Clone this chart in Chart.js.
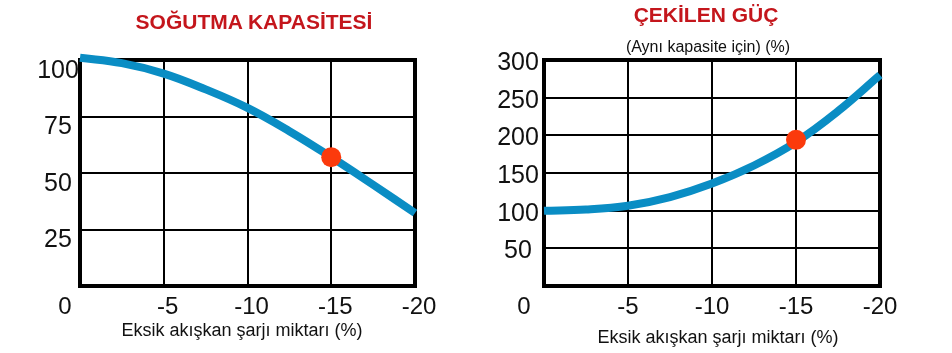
<!DOCTYPE html>
<html>
<head>
<meta charset="utf-8">
<script src="https://cdn.jsdelivr.net/npm/chart.js@4.4.1/dist/chart.umd.min.js"></script>
<style>
  body { margin: 0; background: #fff; width: 952px; height: 353px; overflow: hidden; position: relative;
         font-family: "Liberation Sans", Arial, sans-serif; }
  canvas { position: absolute; top: 0; }
  .t { position: absolute; transform: translate(-50%, -50%); white-space: nowrap; color: #111; }
  .title { font-weight: bold; font-size: 21px; color: #c4161c; }
  .sub { font-size: 16px; }
  .axis { font-size: 18px; }
</style>
</head>
<body>
<canvas id="capChart" width="476" height="353" style="left:0"></canvas>
<canvas id="powChart" width="476" height="353" style="left:476px"></canvas>

<div class="t title" style="left:254px;top:22px">SOĞUTMA KAPASİTESİ</div>
<div class="t axis" style="left:242px;top:330px">Eksik akışkan şarjı miktarı (%)</div>

<div class="t title" style="left:706px;top:15px">ÇEKİLEN GÜÇ</div>
<div class="t sub" style="left:708px;top:47px">(Aynı kapasite için) (%)</div>
<div class="t axis" style="left:718px;top:337px">Eksik akışkan şarjı miktarı (%)</div>

<script>
// values
const xTicks = [0, -5, -10, -15, -20];
const capTicks = [25, 50, 75, 100];
const powTicks = [50, 100, 150, 200, 250, 300];

const chargeX = [0, -2.5, -5, -7.5, -10, -12.5, -15, -17.5, -20];
const capacity = [101, 98.6, 94, 87, 78.8, 68.5, 57, 44.8, 32.3];
const power = [100, 101.5, 106.5, 118, 136, 160, 191, 232, 280];

const markerX = -15;
const capMarker = 57;
const powMarker = 194;

const BLUE = '#0a8dc4';
const RED = '#fb3a0c';

// black frame + hand-placed tick labels
const frame = {
  id: 'frame',
  beforeDatasetsDraw(chart) {
    const { ctx, chartArea: a } = chart;
    ctx.save();
    ctx.lineWidth = 4;
    ctx.strokeStyle = '#000';
    ctx.strokeRect(a.left, a.top, a.right - a.left, a.bottom - a.top);
    ctx.restore();
  },
  afterDraw(chart, args, opts) {
    const { ctx, chartArea: a, scales } = chart;
    ctx.save();
    ctx.fillStyle = '#111';
    ctx.textAlign = 'center';
    ctx.textBaseline = 'middle';
    ctx.font = '25px "Liberation Sans", Arial, sans-serif';
    opts.yLabels.forEach(v => {
      ctx.fillText(String(v), a.left + opts.yDx, scales.y.getPixelForValue(v) + opts.yDy);
    });
    ctx.font = '24px "Liberation Sans", Arial, sans-serif';
    xTicks.forEach(v => {
      const dx = v === 0 ? opts.zeroDx : opts.xDx;
      ctx.fillText(String(v), scales.x.getPixelForValue(v) + dx, a.bottom + 21);
    });
    ctx.restore();
  }
};

function makeChart(id, values, marker, max, step, labels, pad, lab) {
  const ctx = document.getElementById(id).getContext('2d');
  return new Chart(ctx, {
    type: 'line',
    data: {
      datasets: [
        {
          data: [{ x: markerX, y: marker }],
          showLine: false,
          pointRadius: 10,
          pointBackgroundColor: RED,
          pointBorderWidth: 0,
          clip: false
        },
        {
          data: chargeX.map((x, i) => ({ x: x, y: values[i] })),
          borderColor: BLUE,
          borderWidth: 8,
          pointRadius: 0,
          tension: 0.4,
          clip: false
        }
      ]
    },
    options: {
      responsive: false,
      animation: false,
      events: [],
      layout: { padding: pad },
      plugins: {
        legend: { display: false },
        tooltip: { enabled: false },
        frame: Object.assign({ yLabels: labels }, lab)
      },
      scales: {
        x: {
          type: 'linear', min: -20, max: 0, reverse: true,
          ticks: { stepSize: 5, display: false },
          grid: { color: '#000', lineWidth: 2, drawTicks: false },
          border: { display: false },
          afterFit: s => { s.height = 0; }
        },
        y: {
          min: 0, max: max,
          ticks: { stepSize: step, display: false },
          grid: { color: '#000', lineWidth: 2, drawTicks: false },
          border: { display: false },
          afterFit: s => { s.width = 0; }
        }
      }
    },
    plugins: [frame]
  });
}

makeChart('capChart', capacity, capMarker, 100, 25, capTicks,
  { left: 80, right: 61, top: 60, bottom: 67 },
  { yDx: -22, yDy: 11, xDx: 4, zeroDx: -15 });

makeChart('powChart', power, powMarker, 300, 50, powTicks,
  { left: 68, right: 72, top: 60, bottom: 67 },
  { yDx: -26, yDy: 3, xDx: 0, zeroDx: -20 });
</script>
</body>
</html>
